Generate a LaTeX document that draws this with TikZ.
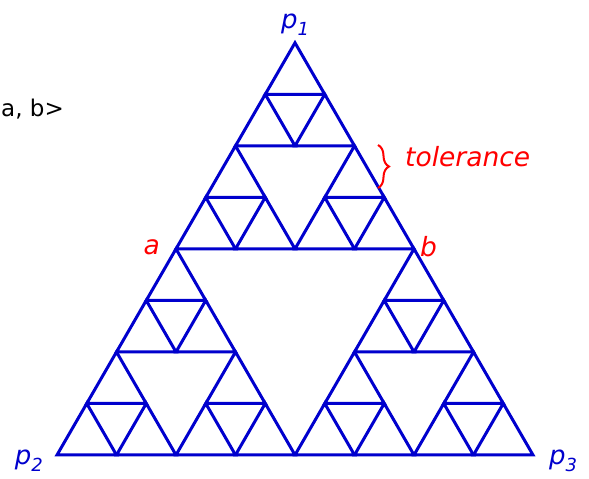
\documentclass[tikz,border=0pt]{standalone}
\usepackage{fontspec}
\setmainfont{DejaVu Sans}
\usetikzlibrary{decorations.pathreplacing}
\definecolor{sblue}{RGB}{0,0,205}
\definecolor{sred}{RGB}{255,0,0}
\tikzset{
  tri/.style={draw=sblue, line width=3pt, line join=miter},
  lab/.style={text=sred, font=\fontsize{26.5}{30}\selectfont\itshape, inner sep=0pt},
  plab/.style={text=sblue, font=\fontsize{26}{30}\selectfont\itshape, inner sep=0pt},
  brc/.style={draw=sred, line width=2pt, decorate, decoration={brace, amplitude=11pt}}
}
\newcommand{\subn}[1]{\raisebox{-0.28em}{\fontsize{18}{18}\selectfont #1}}
\begin{document}
\begin{tikzpicture}[x=1pt, y=1pt]
\useasboundingbox (0,0) rectangle (589,479);
\coordinate (p2) at (57,24);
\coordinate (p3) at (533,24);
\coordinate (p1) at (295,436.2);
\coordinate (a) at (176,230.1);
\coordinate (b) at (414,230.1);
\coordinate (bt) at (378,334);
\coordinate (bb) at (378,291);
\begin{scope}[shift={(57pt,24pt)}, x={(59.5pt,0pt)}, y={(29.75pt,51.525pt)}]
\foreach \a/\b in {0/0,4/0,0/4}
 \foreach \c/\d in {0/0,2/0,0/2}
  \foreach \e/\f in {0/0,1/0,0/1}
   \draw[tri] ({\a+\c+\e},{\b+\d+\f}) -- ++(1,0) -- ++(-1,1) -- cycle;
\end{scope}
\node[plab, anchor=south] (lp1) at ([yshift=7pt]p1) {p\subn{1}};
\node[plab, anchor=east] (lp2) at ([xshift=-14pt,yshift=-6pt]p2) {p\subn{2}};
\node[plab, anchor=west] (lp3) at ([xshift=16pt,yshift=-6pt]p3) {p\subn{3}};
\node[lab, anchor=east] (la) at ([xshift=-16pt,yshift=2pt]a) {a};
\node[lab, anchor=west] (lb) at ([xshift=6pt,yshift=2pt]b) {b};
\draw[brc] (bt) -- (bb);
\node[lab, anchor=west] (tol) at (405,322) {tolerance};
\node[anchor=west, inner sep=0pt, font=\fontsize{23}{28}\selectfont] (ab) at (1,370) {a, b>};
\end{tikzpicture}
\end{document}
